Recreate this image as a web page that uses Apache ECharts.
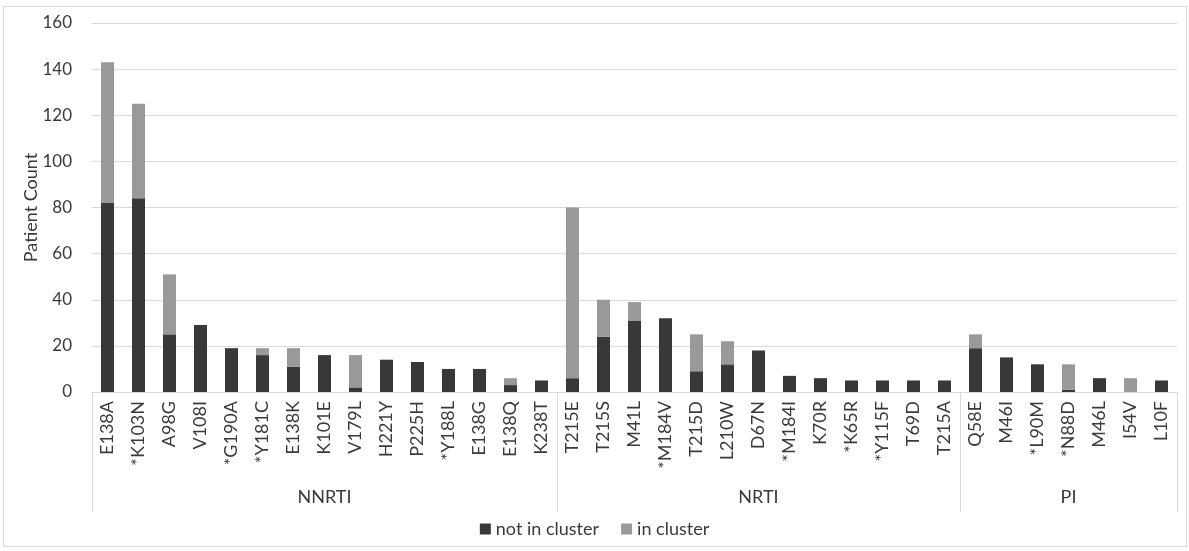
<!DOCTYPE html>
<html>
<head>
<meta charset="utf-8">
<script src="https://cdn.jsdelivr.net/npm/echarts@6/dist/echarts.min.js"></script>
<style>
  html, body { margin: 0; padding: 0; background: #ffffff; }
  #frame { position: absolute; left: 3px; top: 6px; width: 1184px; height: 541px; border: 1px solid #d9d9d9; box-sizing: border-box; }
  #chart { position: absolute; left: 0; top: 0; width: 1189px; height: 551px; }
</style>
</head>
<body>
<div id="frame"></div>
<div id="chart"></div>
<script>
// ---- data ----
const categories = [
  'E138A', '*K103N', 'A98G', 'V108I', '*G190A', '*Y181C', 'E138K', 'K101E', 'V179L', 'H221Y', 'P225H', '*Y188L', 'E138G', 'E138Q', 'K238T',
  'T215E', 'T215S', 'M41L', '*M184V', 'T215D', 'L210W', 'D67N', '*M184I', 'K70R', '*K65R', '*Y115F', 'T69D', 'T215A',
  'Q58E', 'M46I', '*L90M', '*N88D', 'M46L', 'I54V', 'L10F'
];
const notInCluster = [
  82, 84, 25, 29, 19, 16, 11, 16, 2, 14, 13, 10, 10, 3, 5,
  6, 24, 31, 32, 9, 12, 18, 7, 6, 5, 5, 5, 5,
  19, 15, 12, 1, 6, 0, 5
];
const inCluster = [
  61, 41, 26, 0, 0, 3, 8, 0, 14, 0, 0, 0, 0, 3, 0,
  74, 16, 8, 0, 16, 10, 0, 0, 0, 0, 0, 0, 0,
  6, 0, 0, 11, 0, 6, 0
];
const groupNames = ['NNRTI', 'NRTI', 'PI'];
const groupSizes = [15, 13, 7];
const yTicks = { min: 0, max: 160, interval: 20 };
const seriesNames = ['not in cluster', 'in cluster'];

// ---- derived group positions (category indices) ----
const groupStarts = [];
const groupMids = {};
let acc = 0;
groupSizes.forEach(function (n, g) {
  groupStarts.push(acc);
  groupMids[acc + Math.floor(n / 2)] = groupNames[g];
  acc += n;
});

const FONT = 'Lato, "Open Sans", sans-serif';
const TXT = '#3a3a3a';

const chart = echarts.init(document.getElementById('chart'), null, { renderer: 'canvas' });
chart.setOption({
  animation: false,
  backgroundColor: 'transparent',
  textStyle: { fontFamily: FONT },
  grid: { left: 92, right: 12, top: 23, bottom: 159 },
  legend: {
    bottom: 8,
    left: 'center',
    itemWidth: 11,
    itemHeight: 11,
    itemGap: 22,
    icon: 'rect',
    textStyle: { fontFamily: FONT, fontSize: 18, color: TXT },
    data: seriesNames
  },
  xAxis: [
    {
      type: 'category',
      data: categories,
      position: 'bottom',
      axisLine: { show: true, lineStyle: { color: '#d9d9d9', width: 1 } },
      axisTick: { show: false },
      axisLabel: {
        interval: 0,
        rotate: 90,
        margin: 9,
        fontFamily: FONT,
        fontSize: 18,
        color: TXT
      }
    },
    {
      type: 'category',
      data: categories,
      position: 'bottom',
      axisLine: { show: false },
      axisTick: {
        show: true,
        length: 120,
        interval: function (idx) { return groupStarts.indexOf(idx) >= 0; },
        lineStyle: { color: '#d9d9d9', width: 1 }
      },
      axisLabel: {
        interval: function (idx) { return groupMids[idx] !== undefined; },
        formatter: function (v, idx) { return groupMids[idx] || ''; },
        margin: 96,
        fontFamily: FONT,
        fontSize: 18,
        color: TXT
      },
      splitLine: { show: false }
    }
  ],
  yAxis: {
    type: 'value',
    min: yTicks.min,
    max: yTicks.max,
    interval: yTicks.interval,
    name: 'Patient Count',
    nameLocation: 'middle',
    nameGap: 52,
    nameMoveOverlap: false,
    nameTextStyle: { fontFamily: FONT, fontSize: 18, color: TXT },
    axisLine: { show: false },
    axisTick: { show: false },
    axisLabel: { margin: 20, fontFamily: FONT, fontSize: 17, color: TXT },
    splitLine: { lineStyle: { color: '#d9d9d9', width: 1 } }
  },
  series: [
    {
      name: seriesNames[0],
      type: 'bar',
      stack: 'total',
      barWidth: '42%',
      itemStyle: { color: '#383838' },
      data: notInCluster
    },
    {
      name: seriesNames[1],
      type: 'bar',
      stack: 'total',
      barWidth: '42%',
      itemStyle: { color: '#999999' },
      data: inCluster
    }
  ]
});
</script>
</body>
</html>
